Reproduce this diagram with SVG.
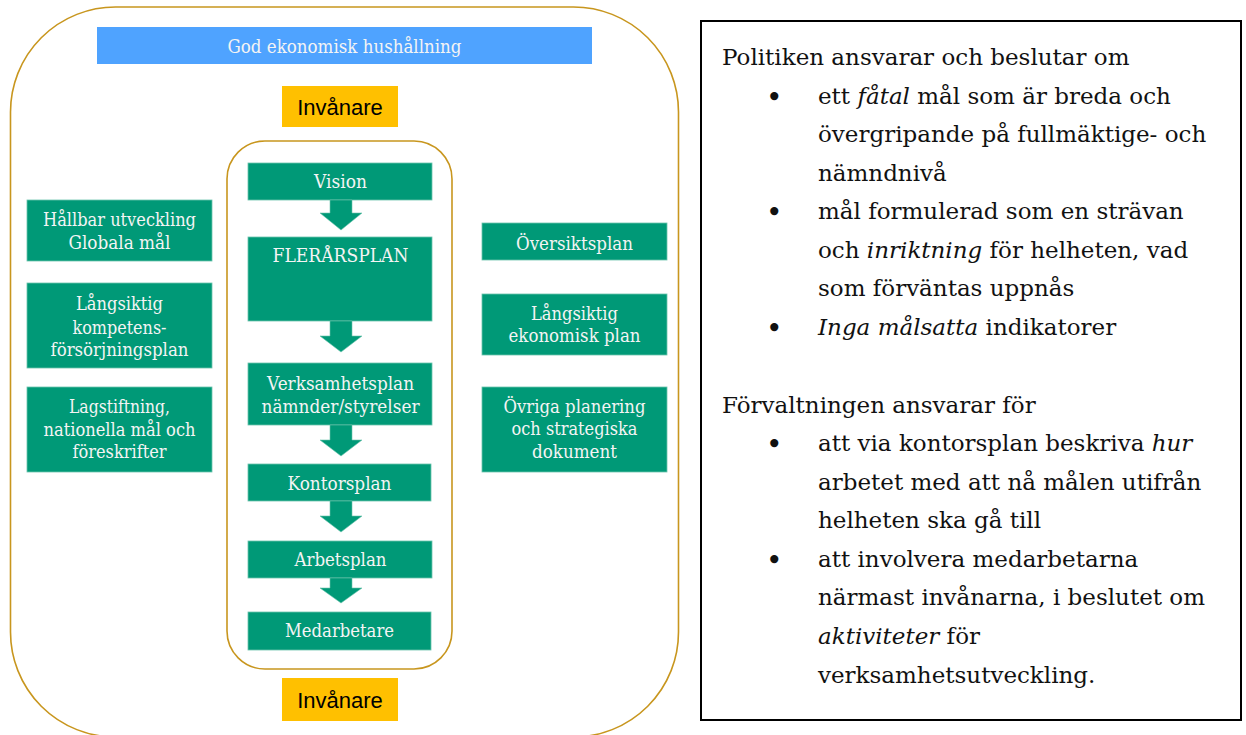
<svg xmlns="http://www.w3.org/2000/svg" width="1246" height="735" viewBox="0 0 1246 735">
<style>
.frame{fill:none;stroke:#C8961E;stroke-width:1.6}
.g{fill:#009977;stroke:#6cc4ad;stroke-width:0.8}
.gt{font-family:"DejaVu Serif","Liberation Serif",serif;font-size:18px;fill:#f4f4f4;text-anchor:middle}
.inv{fill:#FFC000}
.invt{font-family:"Liberation Sans",Arial,sans-serif;font-size:22px;fill:#000;text-anchor:middle}
.arr{fill:#009977;stroke:#6cc4ad;stroke-width:0.6}
.bt{font-family:"DejaVu Serif","Liberation Serif",serif;font-size:23px;fill:#111}
.bu{font-family:"DejaVu Serif","Liberation Serif",serif;font-size:28px;fill:#111}
.it{font-style:italic}
</style>
<rect width="1246" height="735" fill="#fff"/>
<rect id="outer-frame" class="frame" x="10.5" y="7" width="668" height="730" rx="105" ry="105"/>
<rect id="inner-frame" class="frame" x="227" y="141" width="225" height="528" rx="38" ry="38"/>

<g id="god-ekonomisk-hushallning">
<rect x="97" y="27" width="495" height="37" fill="#4FA3FF"/>
<text class="gt" x="344.5" y="53" font-size="19.5" textLength="234" lengthAdjust="spacingAndGlyphs">God ekonomisk hushållning</text>
</g>

<g id="invanare-top">
<rect class="inv" x="282" y="86" width="116" height="41"/>
<text class="invt" x="340" y="115">Invånare</text>
</g>

<g id="invanare-bottom">
<rect class="inv" x="282" y="678" width="116" height="43"/>
<text class="invt" x="340" y="708">Invånare</text>
</g>

<g id="vision">
<rect class="g" x="248" y="163" width="184" height="37"/>
<text class="gt" x="340.5" y="188" textLength="53" lengthAdjust="spacingAndGlyphs">Vision</text>
</g>

<g id="flerarsplan">
<rect class="g" x="248" y="237" width="184" height="84"/>
<text class="gt" x="340.5" y="262" textLength="136" lengthAdjust="spacingAndGlyphs">FLERÅRSPLAN</text>
</g>

<g id="verksamhetsplan">
<rect class="g" x="248" y="363" width="184" height="62"/>
<text class="gt" x="340.5" y="390" textLength="147" lengthAdjust="spacingAndGlyphs">Verksamhetsplan</text>
<text class="gt" x="340.5" y="413" textLength="158" lengthAdjust="spacingAndGlyphs">nämnder/styrelser</text>
</g>

<g id="kontorsplan">
<rect class="g" x="248" y="464" width="183" height="37"/>
<text class="gt" x="339.5" y="490" textLength="104" lengthAdjust="spacingAndGlyphs">Kontorsplan</text>
</g>

<g id="arbetsplan">
<rect class="g" x="248" y="541" width="184" height="37"/>
<text class="gt" x="340.5" y="566" textLength="92" lengthAdjust="spacingAndGlyphs">Arbetsplan</text>
</g>

<g id="medarbetare">
<rect class="g" x="248" y="612" width="183" height="38"/>
<text class="gt" x="339.5" y="637" textLength="109" lengthAdjust="spacingAndGlyphs">Medarbetare</text>
</g>

<g id="hallbar-utveckling">
<rect class="g" x="27" y="200" width="185" height="61"/>
<text class="gt" x="119.5" y="226" textLength="153" lengthAdjust="spacingAndGlyphs">Hållbar utveckling</text>
<text class="gt" x="119.5" y="249" textLength="102" lengthAdjust="spacingAndGlyphs">Globala mål</text>
</g>

<g id="kompetensforsorjningsplan">
<rect class="g" x="27" y="283" width="185" height="85"/>
<text class="gt" x="119.5" y="310" textLength="87" lengthAdjust="spacingAndGlyphs">Långsiktig</text>
<text class="gt" x="119.5" y="334" textLength="94" lengthAdjust="spacingAndGlyphs">kompetens-</text>
<text class="gt" x="119.5" y="356" textLength="138" lengthAdjust="spacingAndGlyphs">försörjningsplan</text>
</g>

<g id="lagstiftning">
<rect class="g" x="27" y="387" width="185" height="85"/>
<text class="gt" x="119.5" y="413" textLength="101" lengthAdjust="spacingAndGlyphs">Lagstiftning,</text>
<text class="gt" x="119.5" y="436" textLength="152" lengthAdjust="spacingAndGlyphs">nationella mål och</text>
<text class="gt" x="119.5" y="458" textLength="94" lengthAdjust="spacingAndGlyphs">föreskrifter</text>
</g>

<g id="oversiktsplan">
<rect class="g" x="482" y="223" width="185" height="37"/>
<text class="gt" x="574.5" y="250" textLength="117" lengthAdjust="spacingAndGlyphs">Översiktsplan</text>
</g>

<g id="ekonomisk-plan">
<rect class="g" x="482" y="294" width="185" height="61"/>
<text class="gt" x="574.5" y="320" textLength="87" lengthAdjust="spacingAndGlyphs">Långsiktig</text>
<text class="gt" x="574.5" y="342" textLength="132" lengthAdjust="spacingAndGlyphs">ekonomisk plan</text>
</g>

<g id="ovriga-planering">
<rect class="g" x="482" y="387" width="185" height="85"/>
<text class="gt" x="574.5" y="413" textLength="142" lengthAdjust="spacingAndGlyphs">Övriga planering</text>
<text class="gt" x="574.5" y="435" textLength="126" lengthAdjust="spacingAndGlyphs">och strategiska</text>
<text class="gt" x="574.5" y="458" textLength="85" lengthAdjust="spacingAndGlyphs">dokument</text>
</g>

<g id="connectors">
<path class="arr" d="M330,200 H352 V213 H362 L341,230 L320,213 H330 Z"/>
<path class="arr" d="M330,321 H352 V336 H362 L341,352 L320,336 H330 Z"/>
<path class="arr" d="M330,425 H352 V440 H362 L341,456 L320,440 H330 Z"/>
<path class="arr" d="M330,501 H352 V516 H362 L341,532 L320,516 H330 Z"/>
<path class="arr" d="M330,578 H352 V588 H362 L341,603 L320,588 H330 Z"/>
</g>

<g id="ansvar-textbox">
<rect x="701" y="21" width="540" height="699" fill="#fff" stroke="#000" stroke-width="2"/>
<text class="bt" x="722" y="65">Politiken ansvarar och beslutar om</text>
<text class="bu" x="766" y="107">•</text>
<text class="bt" x="818" y="104">ett <tspan class="it">fåtal</tspan> mål som är breda och</text>
<text class="bt" x="818" y="142">övergripande på fullmäktige- och</text>
<text class="bt" x="818" y="181">nämndnivå</text>
<text class="bu" x="766" y="222">•</text>
<text class="bt" x="818" y="219">mål formulerad som en strävan</text>
<text class="bt" x="818" y="258">och <tspan class="it">inriktning</tspan> för helheten, vad</text>
<text class="bt" x="818" y="296">som förväntas uppnås</text>
<text class="bu" x="766" y="338">•</text>
<text class="bt" x="818" y="335"><tspan class="it">Inga målsatta</tspan> indikatorer</text>
<text class="bt" x="722" y="413">Förvaltningen ansvarar för</text>
<text class="bu" x="766" y="454">•</text>
<text class="bt" x="818" y="451">att via kontorsplan beskriva <tspan class="it">hur</tspan></text>
<text class="bt" x="818" y="490">arbetet med att nå målen utifrån</text>
<text class="bt" x="818" y="528">helheten ska gå till</text>
<text class="bu" x="766" y="570">•</text>
<text class="bt" x="818" y="567">att involvera medarbetarna</text>
<text class="bt" x="818" y="605">närmast invånarna, i beslutet om</text>
<text class="bt" x="818" y="644"><tspan class="it">aktiviteter</tspan> för</text>
<text class="bt" x="818" y="683">verksamhetsutveckling.</text>
</g>
</svg>
